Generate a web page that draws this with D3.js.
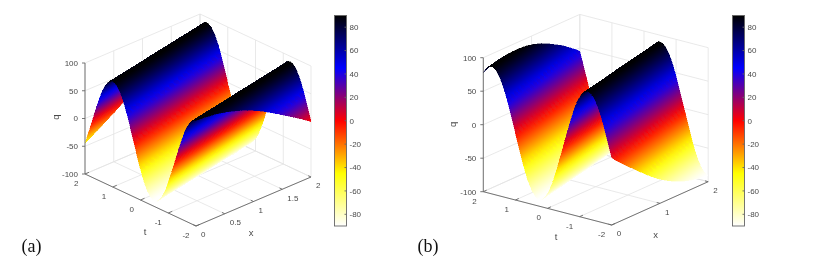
<!DOCTYPE html>
<html>
<head>
<meta charset="utf-8">
<style>
body{margin:0;background:#fff;}
svg{display:block;filter:blur(.45px);}
text{font-family:"Liberation Sans",Arial,sans-serif;font-size:8px;fill:#4a4a4a;}
.axis-label{font-size:9.5px;}
.panel-label{font-family:"Liberation Serif","Times New Roman",serif;font-size:18px;fill:#111;}
.grid{stroke:#e3e3e3;stroke-width:.8;fill:none;}
.axis{stroke:#666;stroke-width:.9;fill:none;}
.surface path{shape-rendering:crispEdges;}
</style>
<script src="https://d3js.org/d3.v7.min.js"></script>
</head>
<body>
<script>
// stations of the surface grid
var tStations=[-2,-1.875,-1.75,-1.625,-1.5,-1.375,-1.25,-1.125,-1,-0.875,-0.75,-0.625,-0.5,-0.375,-0.25,-0.125,0,
	0.125,0.25,0.375,0.5,0.625,0.75,0.875,1,1.125,1.25,1.375,1.5,1.625,1.75,1.875,2];
var xStations=[0,0.5,1,1.5,2];

// one row per x station, one value per t station
var qA=[
[90,87,78,64,45,23,0,-23,-45,-64,-78,-87,-90,-87,-78,-64,-45,-23,0,23,45,64,78,87,90,87,78,64,45,23,0,-23,-45],
[83,89,89,83,71,55,34,12,-12,-34,-55,-71,-83,-89,-89,-83,-71,-55,-34,-12,12,34,55,71,83,89,89,83,71,55,34,12,-12],
[64,78,87,90,87,78,64,45,23,0,-23,-45,-64,-78,-87,-90,-87,-78,-64,-45,-23,0,23,45,64,78,87,90,87,78,64,45,23],
[34,55,71,83,89,89,83,71,55,34,12,-12,-34,-55,-71,-83,-89,-89,-83,-71,-55,-34,-12,12,34,55,71,83,89,89,83,71,55],
[0,23,45,64,78,87,90,87,78,64,45,23,0,-23,-45,-64,-78,-87,-90,-87,-78,-64,-45,-23,0,23,45,64,78,87,90,87,78]];

var qB=[
[0,23,45,64,78,87,90,87,78,64,45,23,0,-23,-45,-64,-78,-87,-90,-87,-78,-64,-45,-23,0,23,45,64,78,87,90,87,78],
[-34,-12,12,34,55,71,83,89,89,83,71,55,34,12,-12,-34,-55,-71,-83,-89,-89,-83,-71,-55,-34,-12,12,34,55,71,83,89,89],
[-64,-45,-23,0,23,45,64,78,87,90,87,78,64,45,23,0,-23,-45,-64,-78,-87,-90,-87,-78,-64,-45,-23,0,23,45,64,78,87],
[-83,-71,-55,-34,-12,12,34,55,71,83,89,89,83,71,55,34,12,-12,-34,-55,-71,-83,-89,-89,-83,-71,-55,-34,-12,12,34,55,71],
[-90,-87,-78,-64,-45,-23,0,23,45,64,78,87,90,87,78,64,45,23,0,-23,-45,-64,-78,-87,-90,-87,-78,-64,-45,-23,0,23,45]];

var xTicksA=[0,0.5,1,1.5,2];
var xTicksB=[0,1,2];
var tTicks=[-2,-1,0,1,2];
var qTicks=[-100,-50,0,50,100];
var barTicks=[-80,-60,-40,-20,0,20,40,60,80];

var cmapStops=[-90,-45,0,45,90];
var cmapColors=["#ffffff","#ffff00","#ff0000","#0000ff","#000000"];

var color=d3.scaleLinear().domain(cmapStops).range(cmapColors);

var svg=d3.select("body").append("svg")
	.attr("width",815)
	.attr("height",260);
var defs=svg.append("defs");

drawPanel({
	id:"a", q:qA, xTicks:xTicksA,
	origin:[196,226], xVec:[115,-49], tVec:[-111,-52], qLen:111,
	xLabel:[251,233.3], tLabel:[145,232], qLabel:[56,117],
	barX:334.5, panelLabel:[21.5,252]
});
drawPanel({
	id:"b", q:qB, xTicks:xTicksB,
	origin:[611.7,225], xVec:[96.5,-43.3], tVec:[-128.4,-33.3], qLen:134,
	xLabel:[655.7,235], tLabel:[556,237.3], qLabel:[453.3,124.3],
	barX:732.5, panelLabel:[417.5,252]
});

function drawPanel(p){
	var g=svg.append("g").attr("class","panel-"+p.id);

	// affine projection of the matlab box, one scale per axis and screen direction
	var xToX=d3.scaleLinear().domain([0,2]).range([0,p.xVec[0]]),
		xToY=d3.scaleLinear().domain([0,2]).range([0,p.xVec[1]]),
		tToX=d3.scaleLinear().domain([-2,2]).range([0,p.tVec[0]]),
		tToY=d3.scaleLinear().domain([-2,2]).range([0,p.tVec[1]]),
		qToY=d3.scaleLinear().domain([-100,100]).range([0,-p.qLen]);

	function project(x,t,q){
		return [p.origin[0]+xToX(x)+tToX(t), p.origin[1]+xToY(x)+tToY(t)+qToY(q)];
	}

	function seg(a,b,cls){
		g.append("line").attr("class",cls)
			.attr("x1",a[0]).attr("y1",a[1])
			.attr("x2",b[0]).attr("y2",b[1]);
	}

	// back walls and floor
	p.xTicks.forEach(function(x){
		seg(project(x,-2,-100),project(x,2,-100),"grid");
		seg(project(x,2,-100),project(x,2,100),"grid");
	});
	tTicks.forEach(function(t){
		seg(project(0,t,-100),project(2,t,-100),"grid");
		seg(project(2,t,-100),project(2,t,100),"grid");
	});
	qTicks.forEach(function(q){
		seg(project(0,2,q),project(2,2,q),"grid");
		seg(project(2,2,q),project(2,-2,q),"grid");
	});

	var tris=buildTriangles(p.q,project);
	tris.forEach(function(d,i){shadeTriangle(d,p.id+"-"+i);});

	var outline=d3.line().curve(d3.curveLinearClosed);
	g.append("g").attr("class","surface")
		.selectAll("path")
		.data(tris)
		.enter().append("path")
		.attr("d",function(d){return outline(d.pts);})
		.attr("fill",function(d){return d.paint;})
		.attr("stroke",function(d){return d.paint;})
		.attr("stroke-width",.4);

	// the three axes in front
	seg(project(0,2,-100),project(0,2,100),"axis");
	seg(project(0,2,-100),project(0,-2,-100),"axis");
	seg(project(0,-2,-100),project(2,-2,-100),"axis");

	qTicks.forEach(function(q){
		var c=project(0,2,q);
		seg([c[0]-3,c[1]],c,"axis");
		g.append("text").attr("x",c[0]-7).attr("y",c[1]+2.8)
			.attr("text-anchor","end").text(q);
	});
	tTicks.forEach(function(t){
		var c=project(0,t,-100), e=project(0.07,t,-100);
		seg(c,e,"axis");
		g.append("text").attr("x",c[0]-6.5).attr("y",c[1]+12)
			.attr("text-anchor","end").text(t);
	});
	p.xTicks.forEach(function(x){
		var c=project(x,-2,-100), e=project(x,-1.9,-100);
		seg(c,e,"axis");
		g.append("text").attr("x",c[0]+5).attr("y",c[1]+11.3)
			.attr("text-anchor","start").text(x);
	});

	g.append("text").attr("class","axis-label").attr("x",p.xLabel[0]).attr("y",p.xLabel[1]+2.5)
		.attr("text-anchor","middle").text("x");
	g.append("text").attr("class","axis-label").attr("x",p.tLabel[0]).attr("y",p.tLabel[1]+3)
		.attr("text-anchor","middle").text("t");
	g.append("text").attr("class","axis-label")
		.attr("transform","translate("+(p.qLabel[0]+2.5)+","+p.qLabel[1]+") rotate(-90)")
		.attr("text-anchor","middle").text("q");

	drawBar(g,p);

	g.append("text").attr("class","panel-label")
		.attr("x",p.panelLabel[0]).attr("y",p.panelLabel[1])
		.text("("+p.id+")");
}

// catmull-rom through four neighbours, ghost points off the ends of the row
function smoothAt(row,u){
	var n=row.length,
		i=Math.min(Math.floor(u),n-2),
		f=u-i;
	var p1=row[i], p2=row[i+1],
		p0=i>0 ? row[i-1] : 3*row[0]-3*row[1]+row[2],
		p3=i<n-2 ? row[i+2] : 3*row[n-1]-3*row[n-2]+row[n-3];
	return 0.5*(2*p1+(p2-p0)*f+(2*p0-5*p1+4*p2-p3)*f*f+(3*p1-p0-3*p2+p3)*f*f*f);
}

// same idea as shading interp: the read grid is refined only to shade it smoothly
function buildTriangles(q,project){
	var nT=3, nX=5;
	var xIdx=d3.range(0,(xStations.length-1)*nX+1).map(function(i){return i/nX;}),
		tIdx=d3.range(0,(tStations.length-1)*nT+1).map(function(i){return i/nT;});
	var xAt=d3.scaleLinear().domain(d3.range(xStations.length)).range(xStations),
		tAt=d3.scaleLinear().domain(d3.range(tStations.length)).range(tStations);

	var mesh=xIdx.map(function(u){
		return tIdx.map(function(w){
			var column=q.map(function(row){return smoothAt(row,w);});
			var v=smoothAt(column,u);
			return {p:project(xAt(u),tAt(w),v),v:v};
		});
	});

	// back to front: far corner of both panels is x=2, t=2
	var tris=[];
	for(var j=mesh.length-2; j>=0; j--){
		for(var k=tIdx.length-2; k>=0; k--){
			tris.push(tri(mesh[j+1][k+1],mesh[j+1][k],mesh[j][k+1]));
			tris.push(tri(mesh[j+1][k],mesh[j][k+1],mesh[j][k]));
		}
	}
	return tris;

	function tri(a,b,c){
		return {pts:[a.p,b.p,c.p],vals:[a.v,b.v,c.v]};
	}
}

// gouraud shading: a linear gradient laid along the screen slope of q over the triangle
function shadeTriangle(d,id){
	var a=d.pts[0], b=d.pts[1], c=d.pts[2],
		v0=d.vals[0], v1=d.vals[1], v2=d.vals[2];
	var det=(b[0]-a[0])*(c[1]-a[1])-(c[0]-a[0])*(b[1]-a[1]),
		lo=d3.min(d.vals), hi=d3.max(d.vals);

	if(Math.abs(det)<1e-3 || hi-lo<1e-3){
		d.paint=color(d3.mean(d.vals));
		return;
	}
	var gx=((v1-v0)*(c[1]-a[1])-(v2-v0)*(b[1]-a[1]))/det,
		gy=((b[0]-a[0])*(v2-v0)-(c[0]-a[0])*(v1-v0))/det,
		len2=gx*gx+gy*gy;

	var grad=defs.append("linearGradient")
		.attr("id","s"+id)
		.attr("gradientUnits","userSpaceOnUse")
		.attr("x1",a[0]+gx*(lo-v0)/len2).attr("y1",a[1]+gy*(lo-v0)/len2)
		.attr("x2",a[0]+gx*(hi-v0)/len2).attr("y2",a[1]+gy*(hi-v0)/len2);
	grad.append("stop").attr("offset",0).attr("stop-color",color(lo));
	grad.append("stop").attr("offset",1).attr("stop-color",color(hi));
	d.paint="url(#s"+id+")";
}

function drawBar(g,p){
	var barWidth=12;
	var y=d3.scaleLinear().domain([-90,90]).range([226,15.5]);

	var grad=defs.append("linearGradient")
		.attr("id","bar-"+p.id)
		.attr("x1",0).attr("y1",1).attr("x2",0).attr("y2",0);
	grad.selectAll("stop")
		.data(cmapStops)
		.enter().append("stop")
		.attr("offset",function(d){return (d+90)/180;})
		.attr("stop-color",function(d){return color(d);});

	g.append("rect")
		.attr("x",p.barX).attr("y",y(90))
		.attr("width",barWidth).attr("height",y(-90)-y(90))
		.attr("fill","url(#bar-"+p.id+")")
		.attr("stroke","#666").attr("stroke-width",.9);

	barTicks.forEach(function(v){
		g.append("line").attr("class","axis")
			.attr("x1",p.barX+barWidth-2).attr("x2",p.barX+barWidth)
			.attr("y1",y(v)).attr("y2",y(v));
		g.append("text")
			.attr("x",p.barX+barWidth+3)
			.attr("y",y(v)+2.8)
			.text(v);
	});
}
</script>
</body>
</html>
